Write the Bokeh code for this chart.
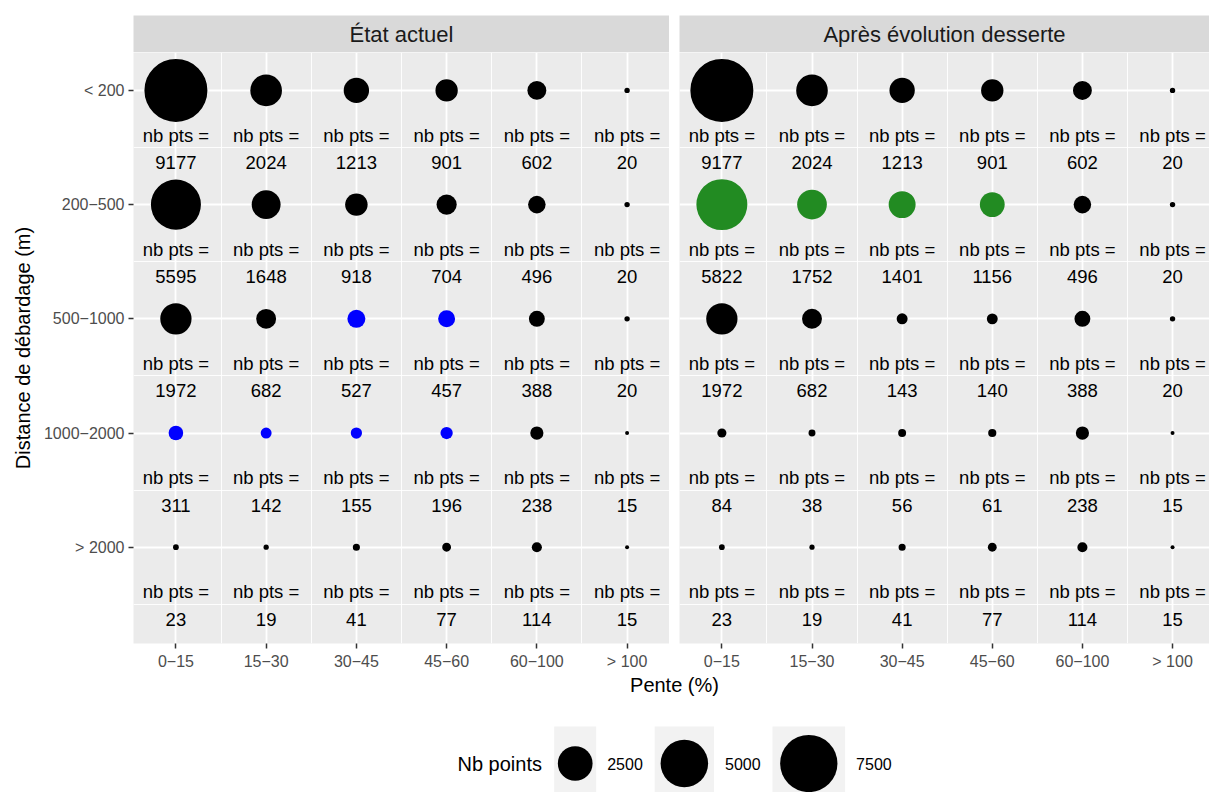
import math
from bokeh.plotting import figure
from bokeh.models import ColumnDataSource, Range1d, FixedTicker, Grid
from bokeh.layouts import column, row
from bokeh.embed import file_html
from bokeh.resources import INLINE
from bokeh.core.properties import value

# ---------------- data ----------------
pente = ["0−15", "15−30", "30−45", "45−60", "60−100", "> 100"]
distance = ["< 200", "200−500", "500−1000", "1000−2000", "> 2000"]
facets = ["État actuel", "Après évolution desserte"]

etat_actuel = [
    [9177, 2024, 1213, 901, 602, 20],
    [5595, 1648, 918, 704, 496, 20],
    [1972, 682, 527, 457, 388, 20],
    [311, 142, 155, 196, 238, 15],
    [23, 19, 41, 77, 114, 15],
]
apres_evolution = [
    [9177, 2024, 1213, 901, 602, 20],
    [5822, 1752, 1401, 1156, 496, 20],
    [1972, 682, 143, 140, 388, 20],
    [84, 38, 56, 61, 238, 15],
    [23, 19, 41, 77, 114, 15],
]
# group of each cell: "n" = normal, "b" = highlighted blue, "v" = highlighted green
groupes_actuel = [
    ["n", "n", "n", "n", "n", "n"],
    ["n", "n", "n", "n", "n", "n"],
    ["n", "n", "b", "b", "n", "n"],
    ["b", "b", "b", "b", "n", "n"],
    ["n", "n", "n", "n", "n", "n"],
]
groupes_apres = [
    ["n", "n", "n", "n", "n", "n"],
    ["v", "v", "v", "v", "n", "n"],
    ["n", "n", "n", "n", "n", "n"],
    ["n", "n", "n", "n", "n", "n"],
    ["n", "n", "n", "n", "n", "n"],
]
legend_values = [2500, 5000, 7500]

# ---------------- styles ----------------
FONT = "Liberation Sans"
GROUP_COLORS = {"n": "#000000", "b": "#0000FF", "v": "#228B22"}
PANEL_BG = "#EBEBEB"
STRIP_BG = "#D9D9D9"
S_MIN, S_MAX = 4.0, 63.0
LABEL_SHIFT = 0.5

all_counts = [v for tab in (etat_actuel, apres_evolution) for r in tab for v in r]
N_MIN, N_MAX = min(all_counts), max(all_counts)


def point_size(n):
    return S_MIN + (S_MAX - S_MIN) * math.sqrt((n - N_MIN) / (N_MAX - N_MIN))


y_range = Range1d(start=5.843, end=0.668)


def make_source(counts, groups):
    xs, ys, ns, cols, sizes, ly, txt = [], [], [], [], [], [], []
    for i, r in enumerate(counts):
        for j, n in enumerate(r):
            xs.append(j + 1)
            ys.append(i + 1)
            ns.append(n)
            cols.append(GROUP_COLORS[groups[i][j]])
            sizes.append(point_size(n))
            ly.append(i + 1 + LABEL_SHIFT)
            txt.append(str(n))
    return ColumnDataSource(dict(x=xs, y=ys, n=ns, color=cols, size=sizes,
                                 ly=ly, txt=txt, lab=["nb pts ="] * len(xs)))


def style_grids(p):
    p.center = [r for r in p.center if not isinstance(r, Grid)]
    nx, ny = len(pente), len(distance)
    gx = Grid(dimension=0,
              ticker=FixedTicker(ticks=list(range(1, nx + 1)),
                                 minor_ticks=[k + 0.5 for k in range(0, nx + 1)]),
              grid_line_color="white", grid_line_width=1.8,
              minor_grid_line_color="white", minor_grid_line_width=0.9)
    gy = Grid(dimension=1,
              ticker=FixedTicker(ticks=list(range(1, ny + 1)),
                                 minor_ticks=[k + 0.5 for k in range(0, ny + 1)]),
              grid_line_color="white", grid_line_width=1.8,
              minor_grid_line_color="white", minor_grid_line_width=0.9)
    p.add_layout(gx)
    p.add_layout(gy)


def style_axis(ax, labels):
    ax.ticker = FixedTicker(ticks=list(range(1, len(labels) + 1)))
    ax.major_label_overrides = {k + 1: lab for k, lab in enumerate(labels)}
    ax.axis_line_color = None
    ax.major_tick_line_color = "#333333"
    ax.major_tick_line_width = 1.5
    ax.major_tick_out = 5
    ax.major_tick_in = 0
    ax.minor_tick_line_color = None
    ax.major_label_text_font = FONT
    ax.major_label_text_font_size = "16px"
    ax.major_label_text_color = "#4D4D4D"
    ax.major_label_standoff = 4


def panel(counts, groups, x_range, width, left_border, with_yaxis):
    p = figure(width=width, height=620, x_range=x_range, y_range=y_range,
               output_backend="svg", toolbar_location=None,
               min_border_left=left_border, min_border_right=0,
               min_border_top=0, min_border_bottom=28,
               background_fill_color=PANEL_BG, border_fill_color="white",
               outline_line_color=None,
               x_axis_location="below",
               y_axis_location="left" if with_yaxis else None)
    style_grids(p)
    style_axis(p.xaxis[0], pente)
    if with_yaxis:
        ax = p.yaxis[0]
        style_axis(ax, distance)
        ax.axis_label = "Distance de débardage (m)"
        ax.axis_label_text_font = FONT
        ax.axis_label_text_font_size = "20px"
        ax.axis_label_text_font_style = "normal"
        ax.axis_label_text_color = "#000000"
        ax.axis_label_standoff = 7
    src = make_source(counts, groups)
    p.scatter(x="x", y="y", size="size", color="color", marker="circle",
              line_color=None, source=src)
    p.text(x="x", y="ly", text="lab", source=src, text_align="center",
           text_baseline="middle", y_offset=-12.5,
           text_font=value(FONT), text_font_size="18.5px", text_color="#000000")
    p.text(x="x", y="ly", text="txt", source=src, text_align="center",
           text_baseline="middle", y_offset=15,
           text_font=value(FONT), text_font_size="18.5px", text_color="#000000")
    return p


def strip(title, width, left_border):
    s = figure(width=width, height=52, x_range=Range1d(0, 1), y_range=Range1d(0, 1),
               output_backend="svg", toolbar_location=None,
               min_border_left=left_border, min_border_right=0,
               min_border_top=15, min_border_bottom=0,
               background_fill_color=STRIP_BG, border_fill_color="white",
               outline_line_color=None, x_axis_location=None, y_axis_location=None)
    s.center = [r for r in s.center if not isinstance(r, Grid)]
    s.text(x=[0.5], y=[0.5], text=[title], text_align="center", text_baseline="middle",
           text_font=value(FONT), text_font_size="22px", text_color="#1A1A1A")
    return s


W_A, W_B = 669, 540
fig_a = panel(etat_actuel, groupes_actuel, Range1d(0.53, 6.47), W_A, 133, True)
fig_b = panel(apres_evolution, groupes_apres, Range1d(0.53, 6.41), W_B, 10, False)
strip_a = strip(facets[0], W_A, 133)
strip_b = strip(facets[1], W_B, 10)

# ---------------- bottom: x title + size legend ----------------
bot = figure(width=W_A + W_B, height=120, x_range=Range1d(0, W_A + W_B),
             y_range=Range1d(792, 672), output_backend="svg", toolbar_location=None,
             min_border=0, background_fill_color="white", border_fill_color="white",
             outline_line_color=None, x_axis_location=None, y_axis_location=None)
bot.center = [r for r in bot.center if not isinstance(r, Grid)]
bot.text(x=[674], y=[684], text=["Pente (%)"], text_align="center", text_baseline="middle",
         text_font=value(FONT), text_font_size="20px", text_color="#000000")
bot.text(x=[457], y=[763], text=["Nb points"], text_align="left", text_baseline="middle",
         text_font=value(FONT), text_font_size="20px", text_color="#000000")

key_w = [42, 59.3, 72.6]
lefts, rights, centers, lab_x = [], [], [], []
xpos = 553.7
for w in key_w:
    lefts.append(xpos)
    rights.append(xpos + w)
    centers.append(xpos + w / 2)
    lab_x.append(xpos + w + 11)
    xpos = xpos + w + 11 + 47.5
bot.quad(left=lefts, right=rights, top=726, bottom=800, fill_color="#F2F2F2", line_color=None)
bot.scatter(x=centers, y=[763] * len(legend_values),
            size=[point_size(v) for v in legend_values],
            color="#000000", line_color=None, marker="circle")
bot.text(x=lab_x, y=[763] * len(legend_values), text=[str(v) for v in legend_values],
         text_align="left", text_baseline="middle",
         text_font=value(FONT), text_font_size="16px", text_color="#000000")

layout = column(row(column(strip_a, fig_a), column(strip_b, fig_b)), bot)

open("out.html", "w").write(file_html(layout, INLINE))
